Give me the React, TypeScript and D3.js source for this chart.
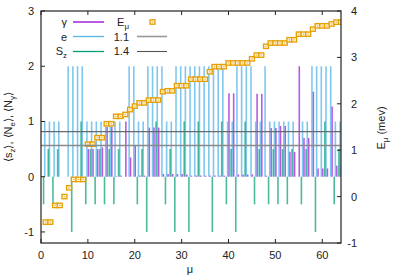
import React from 'react';
import * as d3 from 'd3';

// per state mu = 1..64
const nE = [1, 1, 1, 1, 0, 2, 2, 2, 2, 1, 1, 1, 1, 1, 1, 1, 1, 0, 2, 2, 1, 1, 2, 2, 2, 2, 1, 1, 2, 2, 2, 2,
  2, 2, 2, 2, 2, 2, 2, 1, 1, 2, 2, 2, 2, 1, 1, 2, 1, 1, 1, 1, 1, 1, 0, 1, 1, 2, 2, 2, 2, 2, 1, 1];
const sZ = [-0.5, 0.5, -0.5, 0.5, 0, 0, -1, 0, 1, -0.5, 0.5, -0.5, 0.5, -0.5, 0.5, -0.5, 0.5, 0, 0, 0, -0.5, 0.5, -1, 0, 1, 0, -0.5, 0.5, -1, 0, 1, -1,
  0, 1, 0, 0, -1, 0, 1, -0.5, 0.5, -1, 0, 1, 0, -0.5, 0.5, 0, -0.5, 0.5, -0.5, 0.5, -0.5, 0.5, 0, -0.5, 0.5, 0, -1, 0, 1, 0, -0.5, 0.5];
const nG = [0, 0, 0, 0, 0, 0, 0, 0, 0, 0.5, 0.5, 0.5, 0.53, 0.9, 0.9, 0.01, 0.02, 1.0, 0.35, 0.56, 0.02, 0.02, 0.89, 0.89, 0.89, 0.05, 0.05, 0.05, 0.05, 0.05, 0.04, 0.02,
  0.02, 0.02, 0.02, 0.02, 0.02, 0.02, 0.02, 1.51, 1.51, 0.04, 0.04, 0.04, 0.04, 1.5, 1.5, 0.02, 0.88, 0.88, 0.92, 0.92, 0.45, 0.45, 2.0, 0.7, 0.7, 1.54, 0.15, 0.15, 0.15, 1.27, 0.2, 0.2];
const eMu = [-0.55, -0.55, -0.19, -0.19, 0.0, 0.19, 0.37, 0.37, 0.37, 1.13, 1.13, 1.27, 1.27, 1.57, 1.57, 1.73, 1.73, 1.77, 1.875, 1.95, 2.02, 2.02, 2.08, 2.08, 2.08, 2.26, 2.28, 2.28, 2.39, 2.39, 2.39, 2.53,
  2.53, 2.53, 2.53, 2.69, 2.8, 2.8, 2.8, 2.88, 2.88, 2.88, 2.88, 2.88, 2.97, 3.05, 3.05, 3.24, 3.31, 3.31, 3.31, 3.31, 3.38, 3.38, 3.5, 3.5, 3.5, 3.61, 3.68, 3.68, 3.68, 3.72, 3.76, 3.76];
const refLines = [1.1, 1.4];

const xTicks = [0, 10, 20, 30, 40, 50, 60];
const yTicks = [-1, 0, 1, 2, 3];
const y2Ticks = [-1, 0, 1, 2, 3, 4];

const PURPLE = '#9400d3';
const BLUE = '#56b4e9';
const GREEN = '#009e73';
const ORANGE = '#e69f00';
const FONT = '"Liberation Sans", Arial, sans-serif';

export default function App() {
  const L = 41, R = 341, T = 11, B = 243;
  const x = d3.scaleLinear().domain([0, 64]).range([L, R]);
  const y = d3.scaleLinear().domain([-1.2, 3]).range([B, T]);
  const y2 = d3.scaleLinear().domain([-1, 4]).range([B, T]);
  const mu = d3.range(1, 65);

  const impulses = (vals: number[], off: number, color: string, w: number, op: number) =>
    vals.map((v, i) =>
      v === 0 ? null : (
        <line key={i} x1={x(mu[i] + off)} x2={x(mu[i] + off)} y1={y(0)} y2={y(v)}
          stroke={color} strokeWidth={w} strokeOpacity={op} />
      ));

  const sq = (cx: number, cy: number, k: any) => (
    <g key={k}>
      <rect x={cx - 2.5} y={cy - 2.2} width={5} height={4.4} fill="#fdf1d8" stroke={ORANGE} strokeWidth={1.3} />
      <rect x={cx - 0.6} y={cy - 0.6} width={1.2} height={1.2} fill={ORANGE} fillOpacity={0.7} />
    </g>
  );

  return (
    <svg width={399} height={279} style={{ position: 'absolute', left: 0, top: 0 }} fontFamily={FONT}>
      <defs>
        <clipPath id="plot">
          <rect x={L} y={T} width={R - L} height={B - T} />
        </clipPath>
      </defs>
      <rect width={399} height={279} fill="white" />
      <g clipPath="url(#plot)">
        {impulses(nG, 0.1, PURPLE, 1.6, 0.65)}
        {impulses(nE, -0.2, BLUE, 1.6, 0.75)}
        {impulses(sZ, -0.45, GREEN, 1.6, 0.7)}
        {eMu.map((e, i) => sq(x(mu[i]), y2(e), i))}
        <line x1={L} x2={R} y1={y2(refLines[0])} y2={y2(refLines[0])} stroke="#8a8a8a" strokeWidth={1.6} />
        <line x1={L} x2={R} y1={y2(refLines[1])} y2={y2(refLines[1])} stroke="#6a6a6a" strokeWidth={1.2} />
      </g>

      {/* ticks */}
      {xTicks.map(t => (
        <g key={'x' + t}>
          <line x1={x(t)} x2={x(t)} y1={B} y2={B - 4} stroke="#222" />
          <line x1={x(t)} x2={x(t)} y1={T} y2={T + 4} stroke="#222" />
          <text x={x(t)} y={259} fontSize={11} textAnchor="middle" fill="#222">{t}</text>
        </g>
      ))}
      {yTicks.map(t => (
        <g key={'y' + t}>
          <line x1={L} x2={L + 4} y1={y(t)} y2={y(t)} stroke="#222" />
          <text x={34} y={y(t) + 4} fontSize={11} textAnchor="end" fill="#222">{t}</text>
        </g>
      ))}
      {y2Ticks.map(t => (
        <g key={'y2' + t}>
          <line x1={R} x2={R - 4} y1={y2(t)} y2={y2(t)} stroke="#222" />
          <text x={357} y={y2(t) + 4} fontSize={11} textAnchor="end" fill="#222">{t}</text>
        </g>
      ))}
      <rect x={L} y={T} width={R - L} height={B - T} fill="none" stroke="#222" strokeWidth={1.2} />

      {/* axis titles */}
      <text x={190} y={273} fontSize={11} textAnchor="middle" fill="#222">μ</text>
      <text transform="translate(12,127) rotate(-90)" fontSize={11} textAnchor="middle" fill="#222">
        ⟨s<tspan fontSize={8} dy={3}>z</tspan><tspan dy={-3}>⟩, ⟨N</tspan><tspan fontSize={8} dy={3}>e</tspan><tspan dy={-3}>⟩, ⟨N</tspan><tspan fontSize={8} dy={3}>γ</tspan><tspan dy={-3}>⟩</tspan>
      </text>
      <text transform="translate(385,128) rotate(-90)" fontSize={11} textAnchor="middle" fill="#222">
        E<tspan fontSize={8} dy={3}>μ</tspan><tspan dy={-3}> (mev)</tspan>
      </text>

      {/* legend */}
      <g fontSize={11} fill="#222">
        <text x={67} y={26} textAnchor="end">γ</text>
        <line x1={73} x2={104} y1={22} y2={22} stroke={PURPLE} strokeWidth={1.3} />
        <text x={67} y={40.5} textAnchor="end">e</text>
        <line x1={73} x2={104} y1={36.5} y2={36.5} stroke={BLUE} strokeWidth={1.3} />
        <text x={67} y={55} textAnchor="end">S<tspan fontSize={8} dy={3}>z</tspan></text>
        <line x1={73} x2={104} y1={51.5} y2={51.5} stroke={GREEN} strokeWidth={1.3} />

        <text x={129} y={26} textAnchor="end">E<tspan fontSize={8} dy={3}>μ</tspan></text>
        {sq(152.5, 22, 'leg')}
        <text x={129} y={40.5} textAnchor="end">1.1</text>
        <line x1={137} x2={167} y1={36.5} y2={36.5} stroke="#999" strokeWidth={1.6} />
        <text x={129} y={55} textAnchor="end">1.4</text>
        <line x1={137} x2={167} y1={51.5} y2={51.5} stroke="#555" strokeWidth={1.1} />
      </g>
    </svg>
  );
}
